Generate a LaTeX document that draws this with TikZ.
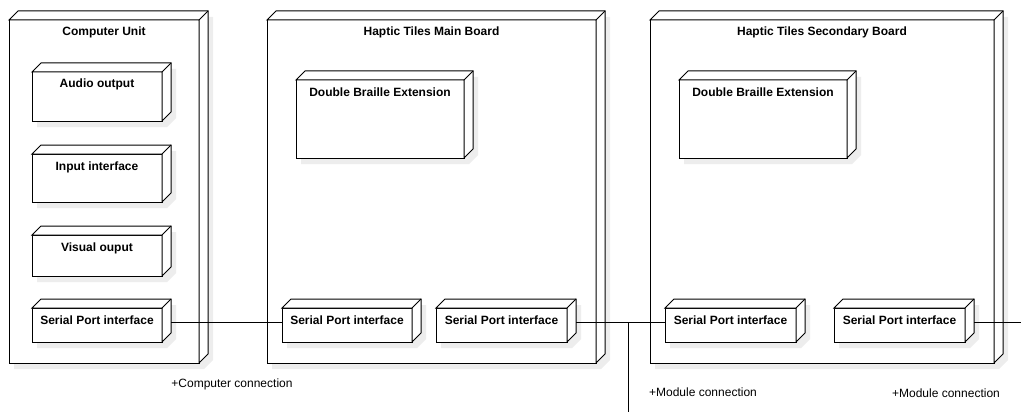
\documentclass[tikz,border=0pt]{standalone}
\usepackage{fontspec}
\setmainfont{Liberation Sans}
\tikzset{
  x=1pt, y=-1pt,
  boxline/.style={draw=black, line width=1pt, line join=miter},
  dropshadow/.style={fill=black!7},
  cubefront/.style={boxline, fill=white, inner sep=0pt, outer sep=0pt, anchor=north west},
  cubetitle/.style={font=\bfseries\fontsize{12}{14}\selectfont, anchor=base, inner sep=0pt},
  linklabel/.style={font=\fontsize{12}{14}\selectfont, inner sep=0pt},
  link/.style={draw=black, line width=1pt},
}
% UML deployment node: front face from (x1,y1) to (x2,y2), depth 9
% #1 name, #2 x1, #3 y1, #4 x2, #5 y2, #6 title
\newcommand\cubenode[6]{%
  \fill[dropshadow, shift={(5,6)}] (#2,#3) -- (#2+9,#3-9) -- (#4+9,#3-9)
     -- (#4+9,#5-9) -- (#4,#5) -- (#2,#5) -- cycle;
  \node[cubefront, minimum width={(#4-#2)*1pt}, minimum height={(#5-#3)*1pt}]
     (#1) at (#2,#3) {};
  \fill[white] (#1.north west) -- ++(9,-9) -- ([shift={(9,-9)}]#1.north east)
     -- ([shift={(9,-9)}]#1.south east) -- (#1.south east) -- (#1.north east) -- cycle;
  \draw[boxline] (#1.south east) -- (#1.north east) -- (#1.north west)
     -- ++(9,-9) -- ([shift={(9,-9)}]#1.north east)
     -- ([shift={(9,-9)}]#1.south east) -- (#1.south east);
  \draw[boxline] (#1.north east) -- ([shift={(9,-9)}]#1.north east);
  \node[cubetitle] (#1-title) at ([yshift=-16pt]#1.north) {#6};
}
\begin{document}
\begin{tikzpicture}
\useasboundingbox (0,0) rectangle (1021,412);

% Computer unit
\cubenode{cu}{9}{20}{199}{363}{Computer Unit}
\cubenode{audio}{32}{72}{162}{121}{Audio output}
\cubenode{input}{32}{154}{162}{202}{Input interface}
\cubenode{visual}{32}{235}{162}{276}{Visual ouput}
\cubenode{cusp}{32}{308}{162}{342}{Serial Port interface}

% Main board
\cubenode{mb}{267}{20}{596}{363}{Haptic Tiles Main Board}
\cubenode{mbdbe}{296}{80}{464}{158}{Double Braille Extension}
\cubenode{mbspa}{282}{308}{412}{342}{Serial Port interface}
\cubenode{mbspb}{436}{308}{567}{342}{Serial Port interface}

% Secondary board
\cubenode{sb}{650}{20}{994}{363}{Haptic Tiles Secondary Board}
\cubenode{sbdbe}{679}{80}{847}{158}{Double Braille Extension}
\cubenode{sbspa}{665}{308}{796}{342}{Serial Port interface}
\cubenode{sbspb}{834}{308}{965}{342}{Serial Port interface}

% Connections
\coordinate (tapend) at (628,412);
\coordinate (rightend) at (1021,322);
\draw[link] ([shift={(9,-3)}]cusp.east) -- ([shift={(0,-3)}]mbspa.west);
\draw[link] ([shift={(9,-3)}]mbspb.east) coordinate (modstart) -- ([shift={(0,-3)}]sbspa.west);
\draw[link] (tapend |- modstart) -- (tapend);
\draw[link] ([shift={(9,-3)}]sbspb.east) -- (rightend);

% Connection labels
\node[linklabel] (lcomp) at (232,384) {+Computer connection};
\node[linklabel] (lmoda) at (703,392) {+Module connection};
\node[linklabel] (lmodb) at (946,393) {+Module connection};
\end{tikzpicture}
\end{document}
